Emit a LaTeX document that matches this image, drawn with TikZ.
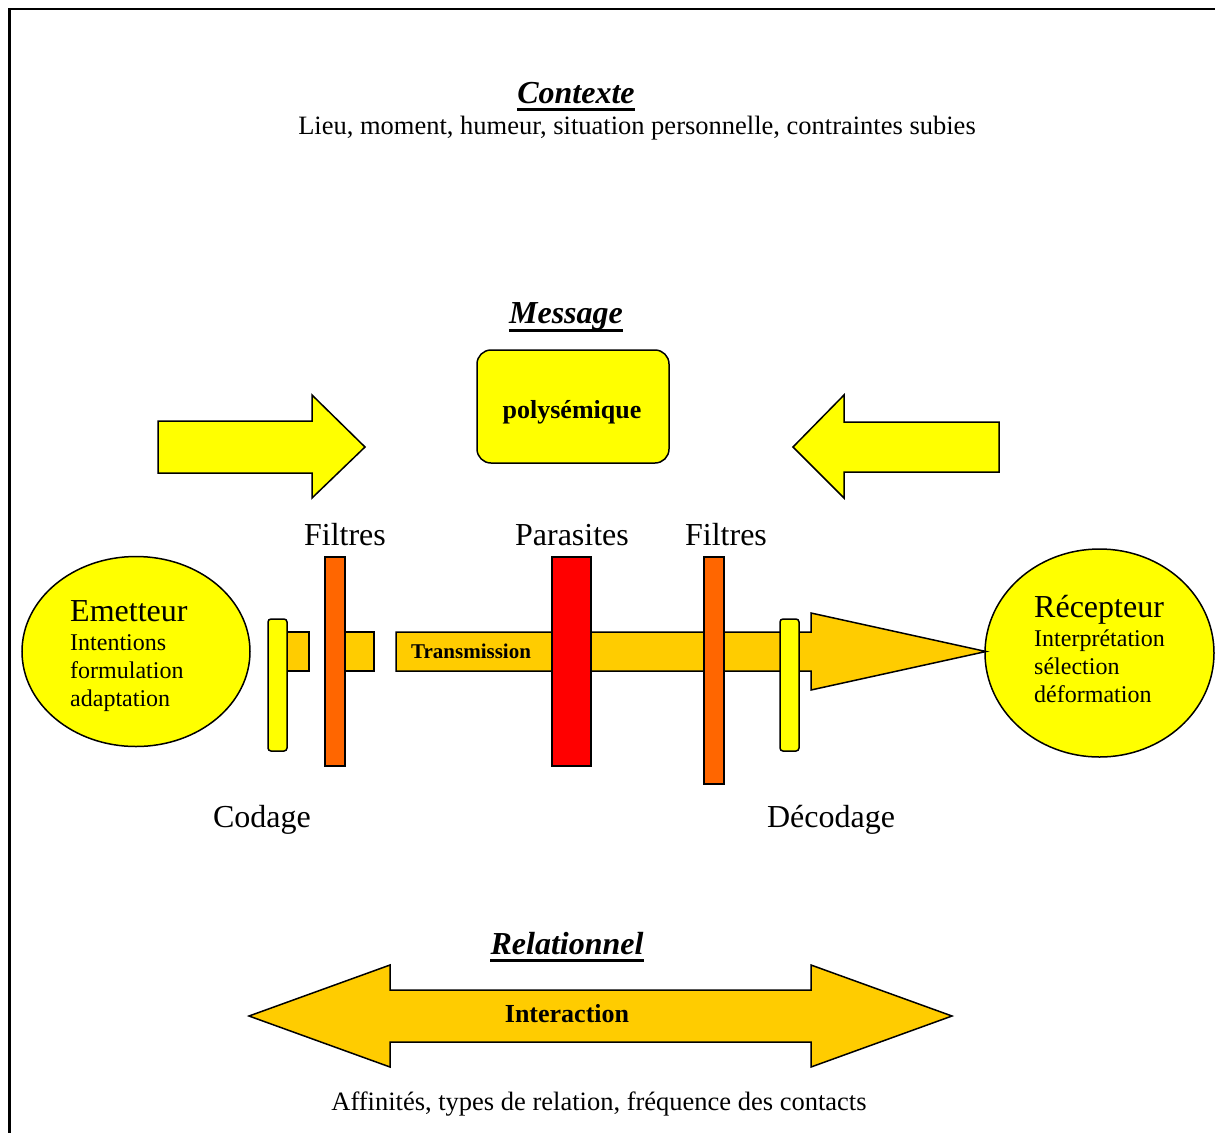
\documentclass[tikz,border=0pt]{standalone}
\usepackage{fontspec}
\setmainfont{Liberation Serif}
\usetikzlibrary{calc,shapes.geometric}
\definecolor{yel}{HTML}{FFFF00}
\definecolor{gold}{HTML}{FFCC00}
\definecolor{orng}{HTML}{FF6600}
\definecolor{redb}{HTML}{FF0000}
\tikzset{
  outl/.style={draw=black, line width=1.5pt, line join=miter},
  barbox/.style={outl, inner sep=0pt, outer sep=0pt},
  big/.style={font=\fontsize{32}{38}\selectfont, inner sep=0pt},
  mid/.style={font=\fontsize{26.5}{32}\selectfont, inner sep=0pt},
  sml/.style={font=\fontsize{24}{28}\selectfont, inner sep=0pt},
  ttl/.style={font=\fontsize{32}{38}\selectfont\bfseries\itshape, inner sep=0pt},
  uline/.style={line width=3pt},
}
\begin{document}
\begin{tikzpicture}[x=1pt,y=-1pt]
\useasboundingbox (0,0) rectangle (1215,1133);
% frame
\draw[line width=2.3pt] (1215,9) -- (9.5,9) -- (9.5,1133);

% Contexte
\node[ttl, anchor=base] (ctx) at (576,103) {Contexte};
\draw[uline] ($(ctx.base west)+(0,6)$) -- ($(ctx.base east)+(0,6)$);
\node[mid, anchor=base] (lieu) at (637,134) {Lieu, moment, humeur, situation personnelle, contraintes subies};

% Message
\node[ttl, anchor=base] (msg) at (566,323) {Message};
\draw[uline] ($(msg.base west)+(0,7)$) -- ($(msg.base east)+(0,7)$);
\node[outl, fill=yel, rounded corners=14pt, minimum width=192, minimum height=113, inner sep=0pt] (poly) at (573,406.5) {};
\node[font=\fontsize{26}{30}\selectfont\bfseries, anchor=base, inner sep=0pt] (polyt) at (572,418) {polysémique};

% top arrows
\draw[outl, fill=yel] (158,421) -- (312,421) -- (312,395) -- (365,447) -- (312,498) -- (312,473) -- (158,473) -- cycle;
\draw[outl, fill=yel] (999,422) -- (844,422) -- (844,395) -- (793,447) -- (844,498) -- (844,472) -- (999,472) -- cycle;

% labels above
\node[big, anchor=base] (filt1) at (345,545) {Filtres};
\node[big, anchor=base] (para) at (572,545) {Parasites};
\node[big, anchor=base] (filt2) at (726,545) {Filtres};

% Emetteur
\node[outl, fill=yel, ellipse, minimum width=228, minimum height=190, inner sep=0pt] (emet) at (136,651.5) {};
\node[big, anchor=base west] (emt) at (70,621) {Emetteur};
\node[sml, anchor=base west] (e1) at (70,650) {Intentions};
\node[sml, anchor=base west] (e2) at (70,678) {formulation};
\node[sml, anchor=base west] (e3) at (70,706) {adaptation};

% Recepteur
\node[outl, fill=yel, ellipse, minimum width=229, minimum height=208, inner sep=0pt] (recp) at (1099.5,653) {};
\node[big, anchor=base west] (rct) at (1034,617) {Récepteur};
\node[sml, anchor=base west] (r1) at (1034,646) {Interprétation};
\node[sml, anchor=base west] (r2) at (1034,674) {sélection};
\node[sml, anchor=base west] (r3) at (1034,702) {déformation};

% transmission arrow
\draw[outl, fill=gold] (396,632) -- (811,632) -- (811,613) -- (986,651.5) -- (811,690) -- (811,671) -- (396,671) -- cycle;
\node[font=\fontsize{21}{25}\selectfont\bfseries, anchor=base west, inner sep=0pt] (trans) at (411,658) {Transmission};

% small boxes
\node[barbox, fill=gold, minimum width=22, minimum height=39] (sb1) at (298,651.5) {};
\node[barbox, fill=gold, minimum width=29, minimum height=39] (sb2) at (359.5,651.5) {};

% bars
\node[barbox, fill=yel, rounded corners=3pt, minimum width=19, minimum height=132] (cod) at (277.5,685) {};
\node[barbox, fill=orng, minimum width=20, minimum height=209] (f1) at (335,661.5) {};
\node[barbox, fill=redb, minimum width=39, minimum height=209] (par) at (571.5,661.5) {};
\node[barbox, fill=orng, minimum width=20, minimum height=227] (f2) at (714,670.5) {};
\node[barbox, fill=yel, rounded corners=3pt, minimum width=19, minimum height=132] (dec) at (789.5,685) {};

% labels below
\node[big, anchor=base] (codt) at (262,827) {Codage};
\node[big, anchor=base] (dect) at (831,827) {Décodage};

% Relationnel
\node[ttl, anchor=base] (rel) at (567,954) {Relationnel};
\draw[uline] ($(rel.base west)+(0,6)$) -- ($(rel.base east)+(0,6)$);
\draw[outl, fill=gold] (249,1016) -- (390,965) -- (390,990) -- (811,990) -- (811,965) -- (952,1016) -- (811,1067) -- (811,1042) -- (390,1042) -- (390,1067) -- cycle;
\node[font=\fontsize{26}{30}\selectfont\bfseries, anchor=base, inner sep=0pt] (inter) at (567,1022) {Interaction};
\node[mid, anchor=base] (aff) at (599,1110) {Affinités, types de relation, fréquence des contacts};
\end{tikzpicture}
\end{document}
